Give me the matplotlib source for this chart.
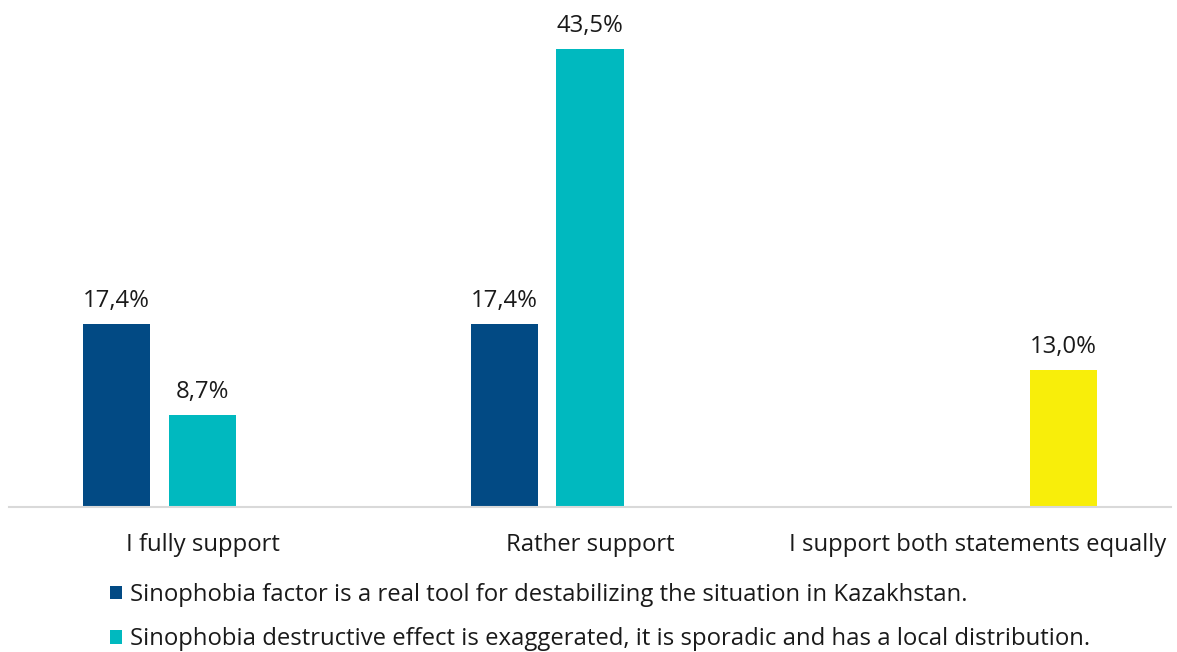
import matplotlib.pyplot as plt
import numpy as np

plt.rcParams['font.family'] = ['Open Sans', 'DejaVu Sans']

categories = ['I fully support', 'Rather support', 'I support both statements equally']
real_tool = [17.4, 17.4, 0]
exaggerated = [8.7, 43.5, 0]
both_equally = [0, 0, 13.0]

series_names = ['Sinophobia factor is a real tool for destabilizing the situation in Kazakhstan.',
                'Sinophobia destructive effect is exaggerated, it is sporadic and has a local distribution.',
                None]
colors = ['#024A84', '#00B9BF', '#F8EE0A']
fs = 17.2

fig = plt.figure(figsize=(11.77, 6.52), dpi=100)
ax = fig.add_axes([9 / 1177, 145 / 652, 1162 / 1177, 474 / 652])

x = np.arange(len(categories))
width = 0.173
step = 0.222
handles = []
for i, (vals, col) in enumerate(zip([real_tool, exaggerated, both_equally], colors)):
    bars = ax.bar(x + (i - 1) * step, vals, width, color=col)
    if series_names[i]:
        handles.append((bars, series_names[i]))
    for b, v in zip(bars, vals):
        if v > 0:
            ax.annotate(f'{v:.1f}%'.replace('.', ','), (b.get_x() + b.get_width() / 2, v),
                        xytext=(0, 8), textcoords='offset points', ha='center', va='bottom',
                        fontsize=fs, color='#1a1a1a')

ax.set_xlim(-0.5, 2.5)
ax.set_ylim(0, 45)
ax.set_yticks([])
for s in ['top', 'right', 'left']:
    ax.spines[s].set_visible(False)
ax.spines['bottom'].set_color('#d9d9d9')
ax.spines['bottom'].set_linewidth(1.5)
ax.set_xticks(x)
ax.set_xticklabels(categories, fontsize=fs, color='#1a1a1a')
ax.tick_params(axis='x', length=0, pad=19)

fig.legend([h[0] for h in handles], [h[1] for h in handles], loc='upper left',
           bbox_to_anchor=(98 / 1177, 1 - 571 / 652), frameon=False, fontsize=fs,
           handlelength=0.5, handleheight=0.5, handletextpad=0.35, labelspacing=0.85,
           borderpad=0, labelcolor='#1a1a1a')

fig.savefig('out.png', dpi=100)
